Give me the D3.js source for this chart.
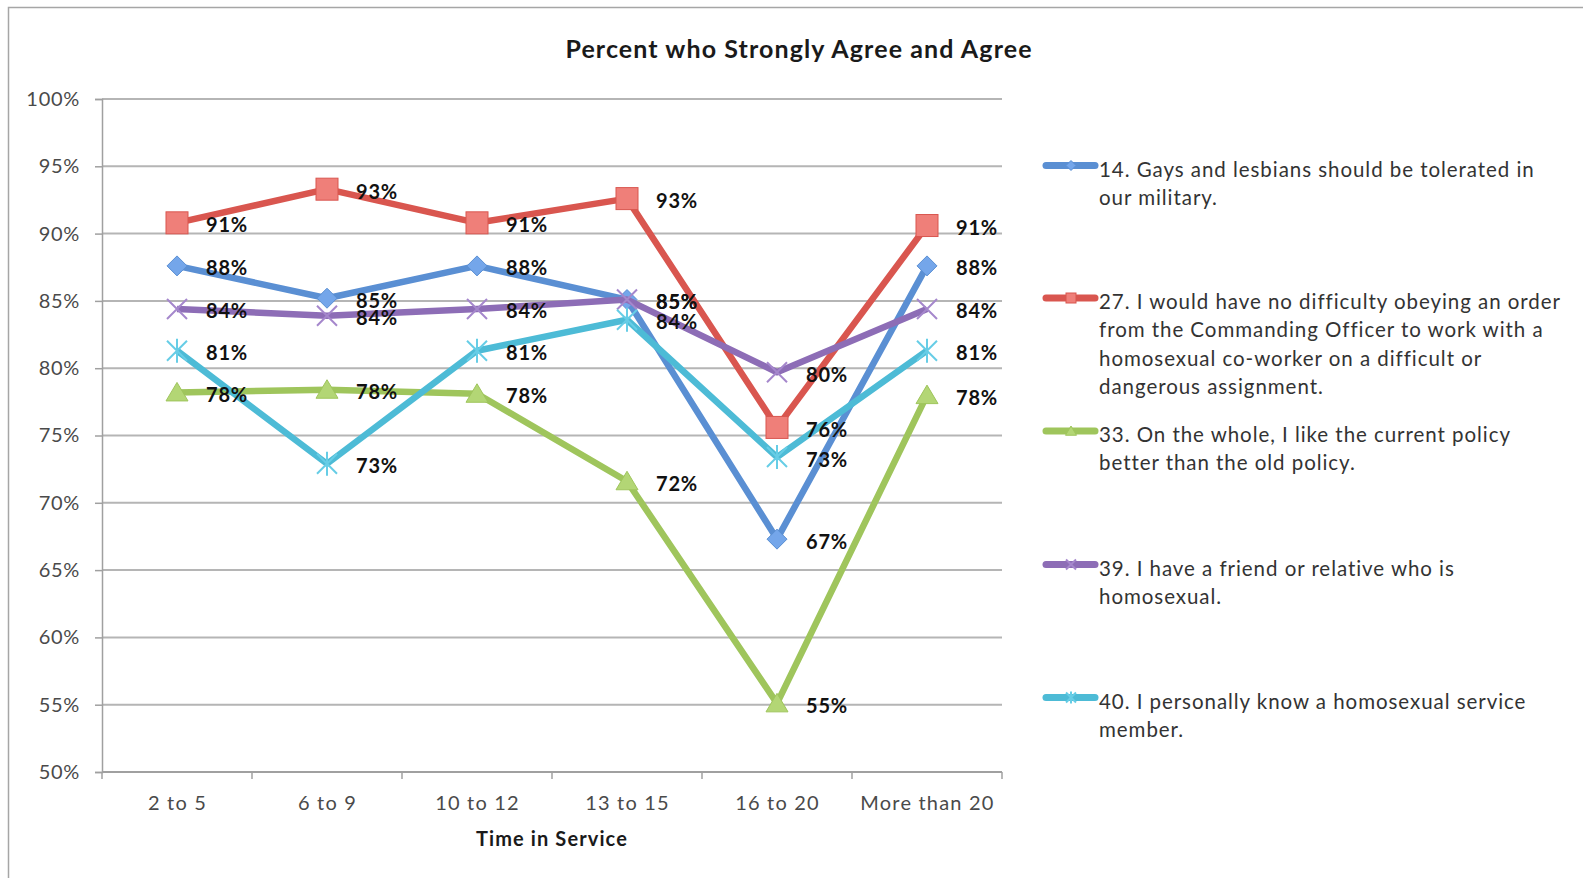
<!DOCTYPE html>
<html>
<head>
<meta charset="utf-8">
<script src="https://cdn.jsdelivr.net/npm/d3@7"></script>
<style>
  html, body { margin: 0; padding: 0; background: #fff; }
  svg { display: block; font-family: "Lato", "Open Sans", sans-serif; }
</style>
</head>
<body>
<svg id="chart" width="1583" height="878"></svg>
<script>
// Survey responses by time in service (share who strongly agree or agree)
const categories = ["2 to 5", "6 to 9", "10 to 12", "13 to 15", "16 to 20", "More than 20"];

const q14 = [0.876, 0.852, 0.876, 0.851, 0.673, 0.876];
const q27 = [0.908, 0.933, 0.908, 0.926, 0.756, 0.906];
const q33 = [0.782, 0.784, 0.781, 0.716, 0.551, 0.780];
const q39 = [0.844, 0.839, 0.844, 0.851, 0.797, 0.844];
const q40 = [0.813, 0.729, 0.813, 0.836, 0.734, 0.813];

const seriesNames = [
  "14. Gays and lesbians should be tolerated in our military.",
  "27. I would have no difficulty obeying an order from the Commanding Officer to work with a homosexual co-worker on a difficult or dangerous assignment.",
  "33. On the whole, I like the current policy better than the old policy.",
  "39. I have a friend or relative who is homosexual.",
  "40. I personally know a homosexual service member."
];
// legend text broken into its displayed lines
const legendLines = [
  ["14. Gays and lesbians should be tolerated in", "our military."],
  ["27. I would have no difficulty obeying an order", "from the Commanding Officer to work with a", "homosexual co-worker on a difficult or", "dangerous assignment."],
  ["33. On the whole, I like the current policy", "better than the old policy."],
  ["39. I have a friend or relative who is", "homosexual."],
  ["40. I personally know a homosexual service", "member."]
];
const yTicks = [0.50, 0.55, 0.60, 0.65, 0.70, 0.75, 0.80, 0.85, 0.90, 0.95, 1.00];

const titleText = "Percent who Strongly Agree and Agree";
const xTitle = "Time in Service";

const seriesValues = [q14, q27, q33, q39, q40];
const colors = ["#5a8fd3", "#d9564f", "#9fc55c", "#8d6db6", "#4dbbd6"];
const fills = ["#74a6ea", "#ef7f79", "#b3d675", "#a587cc", "#66cde6"];
const markerKinds = ["diamond", "square", "triangle", "x", "star"];

const series = seriesValues.map((vals, i) => ({
  name: seriesNames[i],
  color: colors[i],
  fill: fills[i],
  marker: markerKinds[i],
  points: vals.map((v, j) => ({ cat: categories[j], value: v }))
}));

const svg = d3.select("#chart");
const W = 1583, H = 878;
const plot = { left: 102, right: 1002, top: 99, bottom: 772 };
const FONT = "Lato, 'Open Sans', sans-serif";

// outer frame
svg.append("rect")
  .attr("x", 8.5).attr("y", 7.5)
  .attr("width", W + 20).attr("height", H + 20)
  .attr("fill", "none").attr("stroke", "#a6a6a6").attr("stroke-width", 1.5);

const x = d3.scalePoint().domain(categories).range([plot.left, plot.right]).padding(0.5);
const xBand = d3.scaleBand().domain(categories).range([plot.left, plot.right]);
const y = d3.scaleLinear().domain([0.5, 1.0]).range([plot.bottom, plot.top]);

// gridlines
svg.append("g")
  .selectAll("line")
  .data(yTicks)
  .join("line")
  .attr("x1", plot.left).attr("x2", plot.right)
  .attr("y1", d => y(d)).attr("y2", d => y(d))
  .attr("stroke", "#b5b5b5").attr("stroke-width", 2);

// y axis
const yAxis = svg.append("g")
  .attr("transform", `translate(${plot.left},0)`)
  .call(d3.axisLeft(y).tickValues(yTicks).tickFormat(d3.format(".0%")).tickSize(7).tickPadding(15));
yAxis.select(".domain").attr("stroke", "#a0a0a0").attr("stroke-width", 1.5);
yAxis.selectAll(".tick line").attr("stroke", "#a0a0a0").attr("stroke-width", 1.5);
yAxis.selectAll(".tick text")
  .attr("fill", "#4a4a4a").attr("font-size", 20)
  .style("letter-spacing", "0.7px")
  .style("font-family", FONT);

// x axis: labels centred on categories, tick marks on category boundaries
const xAxis = svg.append("g")
  .attr("transform", `translate(0,${plot.bottom})`)
  .call(d3.axisBottom(x).tickSize(0).tickPadding(24));
xAxis.select(".domain").remove();
xAxis.selectAll(".tick text")
  .attr("fill", "#4a4a4a").attr("font-size", 20)
  .style("letter-spacing", "1.2px")
  .style("font-family", FONT);

const bounds = categories.map(c => xBand(c)).concat([plot.right]);
svg.append("line")
  .attr("x1", plot.left).attr("x2", plot.right)
  .attr("y1", plot.bottom).attr("y2", plot.bottom)
  .attr("stroke", "#a0a0a0").attr("stroke-width", 2);
svg.append("g").selectAll("line")
  .data(bounds).join("line")
  .attr("x1", d => d).attr("x2", d => d)
  .attr("y1", plot.bottom).attr("y2", plot.bottom + 7)
  .attr("stroke", "#a0a0a0").attr("stroke-width", 1.5);

// titles
svg.append("text")
  .attr("x", 799).attr("y", 58)
  .attr("text-anchor", "middle")
  .attr("font-size", 25).attr("font-weight", "bold").attr("fill", "#1a1a1a")
  .style("letter-spacing", "1.1px")
  .text(titleText);

svg.append("text")
  .attr("x", (plot.left + plot.right) / 2).attr("y", 846)
  .attr("text-anchor", "middle")
  .attr("font-size", 20).attr("font-weight", "bold").attr("fill", "#1a1a1a")
  .style("letter-spacing", "1.1px")
  .text(xTitle);

// marker drawing
function drawMarker(g, kind, color, fill, s) {
  if (kind === "diamond") {
    g.append("path")
      .attr("d", `M0,${-s}L${s},0L0,${s}L${-s},0Z`)
      .attr("fill", fill).attr("stroke", color).attr("stroke-width", 1);
  } else if (kind === "square") {
    g.append("rect")
      .attr("x", -s).attr("y", -s).attr("width", 2 * s).attr("height", 2 * s)
      .attr("fill", fill).attr("stroke", color).attr("stroke-width", 1);
  } else if (kind === "triangle") {
    g.append("path")
      .attr("d", `M0,${-s}L${s * 1.1},${s * 0.85}L${-s * 1.1},${s * 0.85}Z`)
      .attr("fill", fill).attr("stroke", color).attr("stroke-width", 1);
  } else if (kind === "x") {
    g.append("path")
      .attr("d", `M${-s},${-s}L${s},${s}M${-s},${s}L${s},${-s}`)
      .attr("stroke", fill).attr("stroke-width", 2).attr("fill", "none");
  } else if (kind === "star") {
    g.append("path")
      .attr("d", `M${-s},${-s}L${s},${s}M${-s},${s}L${s},${-s}M0,${-s * 1.2}L0,${s * 1.2}`)
      .attr("stroke", fill).attr("stroke-width", 2).attr("fill", "none");
  }
}

const line = d3.line().x(d => x(d.cat)).y(d => y(d.value));

const seriesG = svg.append("g");
series.forEach(s => {
  const g = seriesG.append("g");
  g.append("path")
    .datum(s.points)
    .attr("d", line)
    .attr("fill", "none")
    .attr("stroke", s.color)
    .attr("stroke-width", 6.5)
    .attr("stroke-linejoin", "round");
  s.points.forEach(p => {
    const m = g.append("g").attr("transform", `translate(${x(p.cat)},${y(p.value)})`);
    drawMarker(m, s.marker, s.color, s.fill, s.marker === "square" ? 11 : 10);
  });
});

// data labels to the right of each point
const fmt = d3.format(".0%");
const labelsG = svg.append("g");
series.forEach(s => {
  labelsG.selectAll(null)
    .data(s.points)
    .join("text")
    .attr("x", d => x(d.cat) + 29)
    .attr("y", d => y(d.value) + 2.5)
    .attr("dy", "0.35em")
    .attr("font-size", 20).attr("font-weight", "bold").attr("fill", "#111")
    .style("letter-spacing", "0.8px")
    .text(d => fmt(d.value));
});

// legend
const legendY = [169.5, 302, 435, 568.5, 701.5];
const legend = svg.append("g");
series.forEach((s, i) => {
  const g = legend.append("g").attr("transform", `translate(0,${legendY[i]})`);
  g.append("line")
    .attr("x1", 1046).attr("x2", 1095).attr("y1", -4).attr("y2", -4)
    .attr("stroke", s.color).attr("stroke-width", 7).attr("stroke-linecap", "round");
  const m = g.append("g").attr("transform", "translate(1071,-4)");
  drawMarker(m, s.marker, s.color, s.fill, 5);
  legendLines[i].forEach((ln, k) => {
    g.append("text")
      .attr("x", 1099).attr("y", k * 28.3 + 7)
      .attr("font-size", 20.5).attr("fill", "#333")
      .style("letter-spacing", "0.95px")
      .text(ln);
  });
});
</script>
</body>
</html>
